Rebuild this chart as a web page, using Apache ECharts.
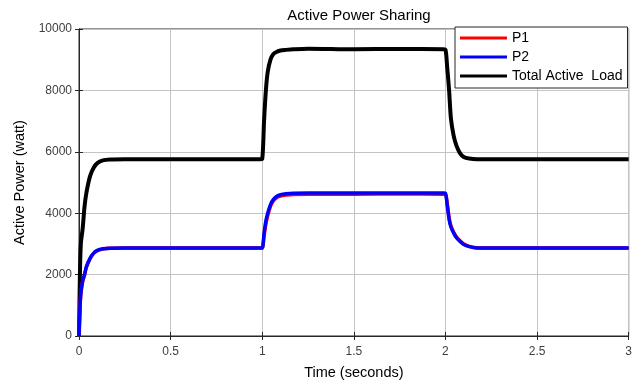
<!DOCTYPE html>
<html>
<head>
<meta charset="utf-8">
<script src="https://cdn.jsdelivr.net/npm/echarts@6/dist/echarts.min.js"></script>
<style>html,body{margin:0;padding:0;background:#fff;}#c{width:635px;height:385px;}</style>
</head>
<body>
<div id="c"></div>
<script>
// Time (seconds)
var time = [0, 0.005, 0.01, 0.02, 0.03, 0.04, 0.06, 0.08, 0.10, 0.13, 0.17, 0.25, 0.5, 0.75, 0.99,
            1.0, 1.01, 1.02, 1.03, 1.045, 1.06, 1.08, 1.10, 1.13, 1.17, 1.25, 1.5, 1.75, 1.99,
            2.0, 2.01, 2.02, 2.03, 2.045, 2.06, 2.08, 2.10, 2.13, 2.17, 2.25, 2.5, 2.75, 3.0];
// Total active load (W)
var totalLoad = [0, 2000, 3000, 3500, 4200, 4650, 5200, 5480, 5630, 5720, 5750, 5760, 5760, 5760, 5760,
                 5770, 7000, 8000, 8600, 9000, 9180, 9260, 9300, 9320, 9340, 9360, 9340, 9350, 9340,
                 9330, 8720, 8000, 7080, 6520, 6200, 5950, 5830, 5780, 5760, 5760, 5760, 5760, 5760];
// P1 (W)
var p1 = [0, 850, 1350, 1770, 1980, 2230, 2510, 2690, 2780, 2830, 2855, 2865, 2865, 2865, 2865,
          2865, 3250, 3650, 3920, 4220, 4400, 4510, 4560, 4590, 4610, 4620, 4620, 4625, 4620,
          4620, 4300, 3850, 3580, 3380, 3230, 3100, 3000, 2920, 2875, 2865, 2865, 2865, 2865];
// P2 (W)
var p2 = [0, 900, 1400, 1800, 2000, 2250, 2530, 2700, 2790, 2840, 2860, 2870, 2870, 2870, 2870,
          2870, 3350, 3750, 4000, 4280, 4440, 4550, 4600, 4630, 4650, 4660, 4660, 4660, 4660,
          4650, 4250, 3800, 3550, 3350, 3200, 3080, 2980, 2910, 2870, 2870, 2870, 2870, 2870];
var xTicks = [0, 0.5, 1, 1.5, 2, 2.5, 3];
var yTicks = [0, 2000, 4000, 6000, 8000, 10000];

function pairs(vals) { return time.map(function (t, i) { return [t, vals[i]]; }); }

var axisColor = '#262626';
var font = 'Liberation Sans, Arial, sans-serif';
var chart = echarts.init(document.getElementById('c'), null, {renderer: 'canvas'});
chart.setOption({
  animation: false,
  backgroundColor: '#ffffff',
  title: {
    text: 'Active Power Sharing',
    left: 354, top: 3, textAlign: 'center',
    textStyle: {fontFamily: font, fontSize: 15, fontWeight: 'normal', color: '#000'}
  },
  legend: {
    orient: 'vertical',
    left: 455, top: 27,
    padding: [3, 5, 4, 5],
    itemGap: 3,
    itemWidth: 47, itemHeight: 3,
    icon: 'rect',
    backgroundColor: '#ffffff',
    borderColor: axisColor, borderWidth: 1,
    data: ['P1', 'P2', 'Total Active  Load'],
    textStyle: {fontFamily: font, fontSize: 14, color: '#000', lineHeight: 16}
  },
  grid: {left: 79, right: 4, top: 29, bottom: 49, show: true, borderColor: axisColor, borderWidth: 1, backgroundColor: '#fff'},
  xAxis: [{
    type: 'value', min: xTicks[0], max: xTicks[xTicks.length - 1], interval: 0.5,
    name: 'Time (seconds)', nameLocation: 'middle', nameGap: 29,
    nameTextStyle: {fontFamily: font, fontSize: 14.5, color: '#000'},
    axisLine: {show: true, lineStyle: {color: axisColor}},
    axisTick: {show: true, inside: true, length: 4, lineStyle: {color: axisColor}},
    axisLabel: {fontFamily: font, fontSize: 12, color: '#404040', margin: 10,
                formatter: function (v) { return String(v); }},
    splitLine: {show: true, lineStyle: {color: '#c4c4c4', width: 1}}
  }, {
    type: 'value', position: 'top', min: xTicks[0], max: xTicks[xTicks.length - 1], interval: 0.5,
    axisLine: {show: true, lineStyle: {color: axisColor}},
    axisTick: {show: true, inside: true, length: 4, lineStyle: {color: axisColor}},
    axisLabel: {show: false}, splitLine: {show: false}
  }],
  yAxis: [{
    type: 'value', min: yTicks[0], max: yTicks[yTicks.length - 1], interval: 2000,
    name: 'Active Power (watt)', nameLocation: 'middle', nameGap: 52,
    nameTextStyle: {fontFamily: font, fontSize: 14.5, color: '#000'},
    axisLine: {show: true, lineStyle: {color: axisColor}},
    axisTick: {show: true, inside: true, length: 4, lineStyle: {color: axisColor}},
    axisLabel: {fontFamily: font, fontSize: 12, color: '#404040', margin: 7,
                formatter: function (v) { return String(v); }},
    splitLine: {show: true, lineStyle: {color: '#c4c4c4', width: 1}}
  }, {
    type: 'value', position: 'right', min: yTicks[0], max: yTicks[yTicks.length - 1], interval: 2000,
    axisLine: {show: true, lineStyle: {color: axisColor}},
    axisTick: {show: true, inside: true, length: 4, lineStyle: {color: axisColor}},
    axisLabel: {show: false}, splitLine: {show: false}
  }],
  series: [{
    name: 'Total Active  Load', type: 'line', data: pairs(totalLoad), showSymbol: false,
    smooth: 0.3, color: '#000000', lineStyle: {width: 4, color: '#000000'}, z: 3
  }, {
    name: 'P1', type: 'line', data: pairs(p1), showSymbol: false,
    smooth: 0.3, color: '#ff0000', lineStyle: {width: 3.5, color: '#ff0000'}, z: 4
  }, {
    name: 'P2', type: 'line', data: pairs(p2), showSymbol: false,
    smooth: 0.3, color: '#0000ff', lineStyle: {width: 3.5, color: '#0000ff'}, z: 5
  }]
});
</script>
</body>
</html>
